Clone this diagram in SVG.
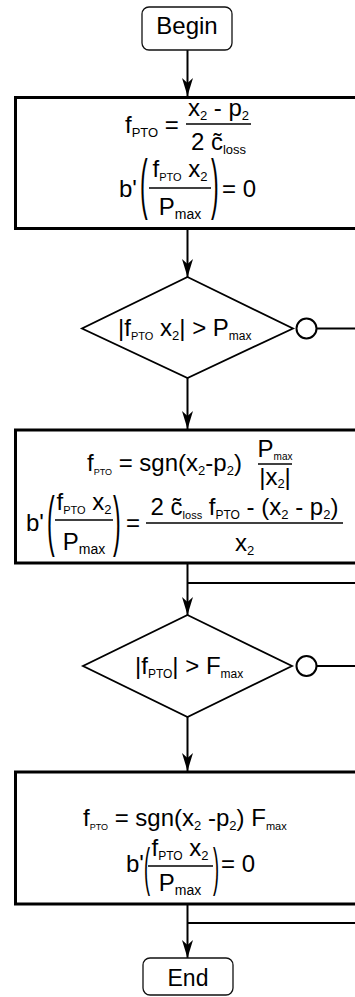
<svg xmlns="http://www.w3.org/2000/svg" width="355" height="997" viewBox="0 0 355 997">
<style>
text{font-family:"Liberation Sans",Arial,sans-serif;fill:#000;font-size:24px}
.box{fill:#fff;stroke:#000;stroke-width:3}
.term{fill:#fff;stroke:#111;stroke-width:1.3}
.dec{fill:#fff;stroke:#000;stroke-width:1.8}
.bar{stroke:#000;stroke-width:1.3}
.con{fill:none;stroke:#000;stroke-width:2}
.sub{font-size:13px}
.mid{text-anchor:middle}
.par{font-size:66px}
.par3{font-size:52px}
.end{font-size:23px}
</style>
<defs>
<marker id="arr" viewBox="0 0 18 11" refX="18" refY="5.5" markerWidth="18" markerHeight="11" markerUnits="userSpaceOnUse" orient="auto">
<path d="M0,0 L18,5.5 L0,11 L5,5.5 Z" fill="#000"/>
</marker>
</defs>

<g id="connectors">
<line class="con" x1="187.5" y1="50" x2="187.5" y2="96" marker-end="url(#arr)"/>
<line class="con" x1="187.5" y1="229" x2="187.5" y2="277" marker-end="url(#arr)"/>
<line class="con" x1="187.5" y1="378" x2="187.5" y2="429" marker-end="url(#arr)"/>
<circle class="con" cx="306.5" cy="328.5" r="10"/>
<line class="con" x1="316.5" y1="328.5" x2="356" y2="328.5"/>
<line class="con" x1="356" y1="583" x2="187.5" y2="583"/>
<line class="con" x1="187.5" y1="564" x2="187.5" y2="615" marker-end="url(#arr)"/>
<circle class="con" cx="306.5" cy="666" r="10"/>
<line class="con" x1="316.5" y1="666" x2="356" y2="666"/>
<line class="con" x1="187.5" y1="717" x2="187.5" y2="771" marker-end="url(#arr)"/>
<line class="con" x1="356" y1="923" x2="187.5" y2="923"/>
<line class="con" x1="187.5" y1="905" x2="187.5" y2="958" marker-end="url(#arr)"/>
</g>

<g id="begin">
<rect class="term" x="142" y="7" width="90" height="43" rx="7"/>
<text class="mid" x="187" y="34">Begin</text>
</g>

<g id="box1">
<rect class="box" x="15.5" y="97.5" width="345" height="131"/>
<text x="125" y="133">f<tspan class="sub" dy="4">PTO</tspan><tspan dy="-4"> = </tspan></text>
<text class="mid" x="218.5" y="116">x<tspan class="sub" dy="4">2</tspan><tspan dy="-4"> - p</tspan><tspan class="sub" dy="4">2</tspan></text>
<line class="bar" x1="186" y1="124" x2="251" y2="124"/>
<text class="mid" x="218.5" y="150">2 c&#x303;<tspan class="sub" dy="4">loss</tspan></text>
<text x="119" y="197">b'</text>
<text class="par" transform="translate(140,206) scale(0.35,1)">(</text>
<text class="mid" x="180" y="177">f<tspan font-size="11" dy="4">PTO</tspan><tspan dy="-4"> x</tspan><tspan class="sub" dy="4">2</tspan></text>
<line class="bar" x1="149" y1="188" x2="211" y2="188"/>
<text class="mid" x="180" y="215">P<tspan font-size="14" dy="4">max</tspan></text>
<text class="par" transform="translate(211,206) scale(0.35,1)">)</text>
<text x="222" y="197">= 0</text>
</g>

<g id="decision1">
<polygon class="dec" points="187.5,277 293,328.5 187.5,378 82,328.5"/>
<text x="118" y="336">|f<tspan font-size="11" dy="4">PTO</tspan><tspan dy="-4"> x</tspan><tspan class="sub" dy="4">2</tspan><tspan dy="-4">| &gt; P</tspan><tspan font-size="12" dy="4">max</tspan></text>
</g>

<g id="box2">
<rect class="box" x="15.5" y="430" width="345" height="133"/>
<text x="87" y="471">f<tspan font-size="9" dy="4">PTO</tspan><tspan dy="-4"> = sgn(x</tspan><tspan class="sub" dy="4">2</tspan><tspan dy="-4">-p</tspan><tspan class="sub" dy="4">2</tspan><tspan dy="-4">)</tspan></text>
<text class="mid" x="275" y="457">P<tspan font-size="10" dy="3">max</tspan></text>
<line class="bar" x1="258" y1="464" x2="292" y2="464"/>
<text class="mid" x="275" y="485">|x<tspan class="sub" dy="3">2</tspan><tspan dy="-3">|</tspan></text>
<text x="26" y="531">b'</text>
<text class="par" transform="translate(47,543) scale(0.35,1)">(</text>
<text class="mid" x="84" y="510">f<tspan font-size="11" dy="4">PTO</tspan><tspan dy="-4"> x</tspan><tspan class="sub" dy="4">2</tspan></text>
<line class="bar" x1="55" y1="520" x2="113" y2="520"/>
<text class="mid" x="84" y="550">P<tspan font-size="14" dy="4">max</tspan></text>
<text class="par" transform="translate(113,543) scale(0.35,1)">)</text>
<text x="126" y="531">=</text>
<text class="mid" x="244.5" y="515">2 c&#x303;<tspan font-size="11" dy="4">loss</tspan><tspan dy="-4"> f</tspan><tspan font-size="12" dy="4">PTO</tspan><tspan dy="-4"> - (x</tspan><tspan class="sub" dy="4">2</tspan><tspan dy="-4"> - p</tspan><tspan class="sub" dy="4">2</tspan><tspan dy="-4">)</tspan></text>
<line class="bar" x1="146" y1="523" x2="343" y2="523"/>
<text class="mid" x="244.5" y="551">x<tspan class="sub" dy="4">2</tspan></text>
</g>

<g id="decision2">
<polygon class="dec" points="187.5,615 292,666 187.5,717 83,666"/>
<text x="135" y="674">|f<tspan font-size="12" dy="4">PTO</tspan><tspan dy="-4">| &gt; F</tspan><tspan font-size="12" dy="4">max</tspan></text>
</g>

<g id="box3">
<rect class="box" x="15.5" y="772" width="345" height="132"/>
<text x="83" y="826">f<tspan font-size="9" dy="4">PTO</tspan><tspan dy="-4"> = sgn(x</tspan><tspan class="sub" dy="4">2</tspan><tspan dy="-4"> -p</tspan><tspan class="sub" dy="4">2</tspan><tspan dy="-4">) F</tspan><tspan font-size="11" dy="4">max</tspan></text>
<text x="126" y="872">b'</text>
<text class="par3" transform="translate(144,885) scale(0.35,1)">(</text>
<text class="mid" x="180" y="856">f<tspan font-size="12" dy="4">PTO</tspan><tspan dy="-4"> x</tspan><tspan class="sub" dy="4">2</tspan></text>
<line class="bar" x1="148" y1="866" x2="213" y2="866"/>
<text class="mid" x="180" y="891">P<tspan font-size="14" dy="4">max</tspan></text>
<text class="par3" transform="translate(213,885) scale(0.35,1)">)</text>
<text x="221" y="872">= 0</text>
</g>

<g id="end">
<rect class="term" x="143" y="958" width="90" height="37" rx="7"/>
<text class="mid end" x="188" y="986">End</text>
</g>
</svg>
